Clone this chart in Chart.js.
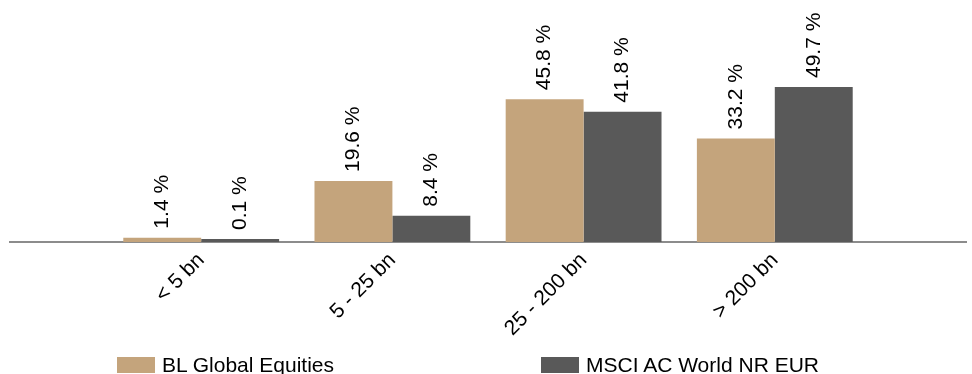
<!DOCTYPE html>
<html>
<head>
<meta charset="utf-8">
<script src="https://cdn.jsdelivr.net/npm/chart.js@4"></script>
<style>
  body { margin: 0; background: #fff; }
  #wrap { position: relative; width: 972px; height: 374px; }
  #legend { position: absolute; top: 357px; left: 0; width: 972px; height: 16px;
            font-family: 'Liberation Sans', Arial, sans-serif; font-size: 21px; color: #000; }
  .item { position: absolute; display: flex; align-items: center; height: 16px; white-space: nowrap; }
  .box { width: 38px; height: 16px; margin-right: 7px; }
</style>
</head>
<body>
<div id="wrap">
  <canvas id="chart" width="972" height="374"></canvas>
  <div id="legend"></div>
</div>
<script>
// données
const categories = ['< 5 bn', '5 - 25 bn', '25 - 200 bn', '> 200 bn'];
const blGlobal = [1.4, 19.6, 45.8, 33.2];
const msciWorld = [0.1, 8.4, 41.8, 49.7];
const seriesNames = ['BL Global Equities', 'MSCI AC World NR EUR'];

const colors = {
    tan: '#c4a47c',
    dark: '#595959',
    axis: '#8c8c8c'
};
const fontFamily = "'Liberation Sans', Arial, sans-serif";
const fontSize = 21;

// half a slot of empty space on each side of the axis
const labels = ['', ...categories, ''];
const pad = arr => [null, ...arr, null];

// étiquettes de valeur verticales au-dessus des barres
const valueLabels = {
    id: 'valueLabels',
    afterDatasetsDraw(chart) {
        const ctx = chart.ctx;
        ctx.save();
        ctx.font = fontSize + 'px ' + fontFamily;
        ctx.fillStyle = '#000';
        ctx.textAlign = 'left';
        ctx.textBaseline = 'middle';
        chart.data.datasets.forEach((ds, i) => {
            chart.getDatasetMeta(i).data.forEach((bar, j) => {
                const v = ds.data[j];
                if (v === null) return;
                ctx.save();
                ctx.translate(bar.x, bar.y - 9);
                ctx.rotate(-Math.PI / 2);
                ctx.fillText(v.toFixed(1) + ' %', 0, 0);
                ctx.restore();
            });
        });
        ctx.restore();
    }
};

const chart = new Chart(document.getElementById('chart'), {
    type: 'bar',
    data: {
        labels: labels,
        datasets: [
            { label: seriesNames[0], data: pad(blGlobal), backgroundColor: colors.tan },
            { label: seriesNames[1], data: pad(msciWorld), backgroundColor: colors.dark }
        ]
    },
    options: {
        responsive: false,
        animation: false,
        layout: { padding: { left: 10, right: 6, top: 0, bottom: 0 } },
        datasets: {
            bar: { categoryPercentage: 0.815, barPercentage: 1, minBarLength: 3 }
        },
        plugins: {
            legend: { display: false },
            tooltip: { enabled: false }
        },
        scales: {
            x: {
                offset: false,
                grid: { display: false, drawTicks: false },
                border: { display: true, color: colors.axis, width: 2 },
                afterFit(scale) {
                    scale.height = 132;
                    scale.paddingLeft = 0;
                    scale.paddingRight = 0;
                },
                ticks: {
                    autoSkip: false,
                    minRotation: 45,
                    maxRotation: 45,
                    padding: 6,
                    color: '#000',
                    font: { family: fontFamily, size: fontSize }
                }
            },
            y: {
                display: false,
                min: 0,
                max: 77.6
            }
        }
    },
    plugins: [valueLabels]
});

// légende
const legend = document.getElementById('legend');
const legendX = [117, 541];
chart.data.datasets.forEach((ds, i) => {
    const item = document.createElement('div');
    item.className = 'item';
    item.style.left = legendX[i] + 'px';
    item.innerHTML = '<span class="box" style="background:' + ds.backgroundColor + '"></span><span>' + ds.label + '</span>';
    legend.appendChild(item);
});
</script>
</body>
</html>
